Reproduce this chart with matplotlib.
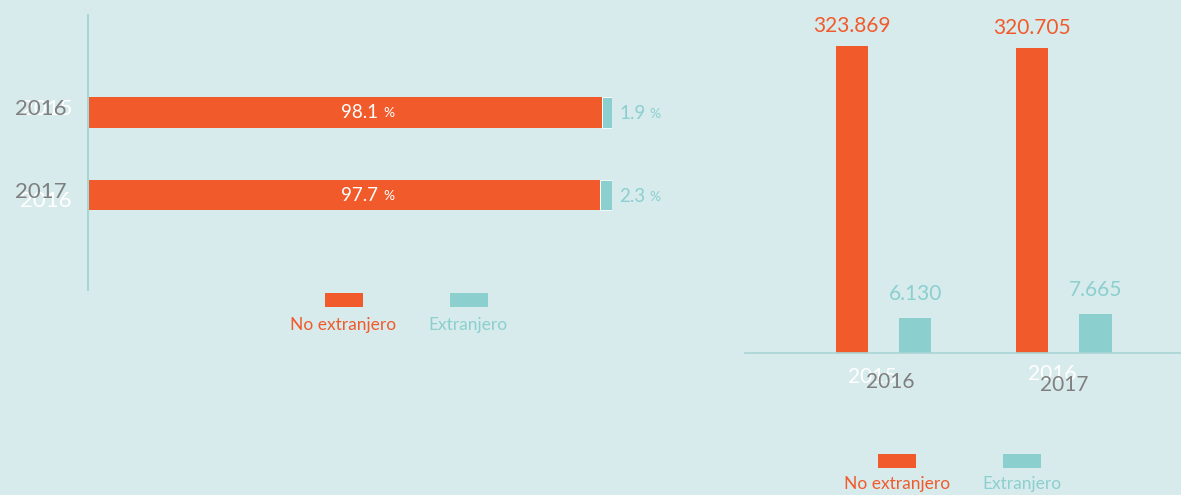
"""
Extranjero vs no extranjero, 2016-2017.
Vystup: out.png
"""

import numpy as np
import matplotlib
matplotlib.use('Agg')
import matplotlib.pyplot as plt
from matplotlib.patches import Rectangle

# --- data ---
years = ['2016', '2017']
pct_no_ext = [98.1, 97.7]
pct_ext = [1.9, 2.3]
cnt_no_ext = [323869, 320705]
cnt_ext = [6130, 7665]
pct_labels_no = ['98.1', '97.7']
pct_labels_ext = ['1.9', '2.3']
cnt_labels_no = ['323.869', '320.705']
cnt_labels_ext = ['6.130', '7.665']
legend_names = ['No extranjero', 'Extranjero']

# --- styl ---
BG = '#D8EBEC'
ORANGE = '#F15A2B'
TEAL = '#8BCFCF'
GRAY = '#7F7F7F'
LINE = '#A9D5D5'
W, H = 1181, 495

plt.rcParams['font.family'] = ['Lato', 'DejaVu Sans']


def fx(x):
    return x / W


def fy(y):
    return 1 - y / H


fig = plt.figure(figsize=(W / 100, H / 100), dpi=100, facecolor=BG)

# ============================================================
# Lavy graf: horizontalne percenta
# ============================================================
axl = fig.add_axes([fx(88), fy(290), fx(524), 275 / H])
axl.set_facecolor('none')
ypos = np.arange(len(years))
bar_h = 0.373
axl.barh(ypos, pct_no_ext, height=bar_h, color=ORANGE, lw=0, zorder=2)
axl.barh(ypos, pct_ext, left=pct_no_ext, height=bar_h, color=TEAL,
         edgecolor='white', linewidth=0.6, zorder=2)
axl.set_xlim(0, 100)
axl.set_ylim(2.145, -1.17)
for s in ['top', 'right', 'bottom']:
    axl.spines[s].set_visible(False)
axl.spines['left'].set_color(LINE)
axl.spines['left'].set_linewidth(1.5)
axl.spines['left'].set_zorder(3)
axl.set_xticks([])
axl.set_yticks([])

for i, y in enumerate(ypos):
    axl.text(55.3, y, pct_labels_no[i], color='white', fontsize=13.5,
             ha='right', va='center', zorder=4)
    axl.annotate('%', (55.3, y), xytext=(4, -1), textcoords='offset points',
                 color='white', fontsize=10, ha='left', va='center', zorder=4)
    end = pct_no_ext[i] + pct_ext[i]
    axl.annotate(pct_labels_ext[i], (end, y), xytext=(5, -1),
                 textcoords='offset points', color=TEAL, fontsize=13.5,
                 ha='left', va='center')
    axl.annotate('%', (end, y), xytext=(27, -1.5), textcoords='offset points',
                 color=TEAL, fontsize=10, ha='left', va='center')
    # popisky rokov (s bielym "duchom" ako v originali)
    ghost = ['2015', '2016'][i]
    gdy = [-3, 6][i]
    fig.text(fx(72), fy(112 + 83 * i + gdy), ghost, color='white', fontsize=16,
             ha='right', va='center')
    fig.text(fx(67), fy(109 + 83 * i), years[i], color=GRAY, fontsize=16,
             ha='right', va='center')

# legenda vlavo
for k, (name, col) in enumerate(zip(legend_names, [ORANGE, TEAL])):
    x0 = 325 + 125 * k
    fig.add_artist(Rectangle((fx(x0), fy(307)), fx(38), 14 / H,
                             transform=fig.transFigure, color=col, lw=0))
    fig.text(fx(x0 + 18), fy(325), name, color=col, fontsize=12.5,
             ha='center', va='center')

# ============================================================
# Pravy graf: absolutne pocty
# ============================================================
P = 0.55


def fwd(v):
    return np.sign(v) * np.abs(v) ** P


def inv(v):
    return np.sign(v) * np.abs(v) ** (1 / P)


axr = fig.add_axes([fx(745), fy(353), fx(W - 745), 333 / H])
axr.set_facecolor('none')
xpos = np.arange(len(years))
off = 0.176
bw = 0.178
axr.set_yscale('function', functions=(fwd, inv))
axr.bar(xpos - off, cnt_no_ext, width=bw, color=ORANGE, zorder=2)
axr.bar(xpos + off, cnt_ext, width=bw, color=TEAL, zorder=2)
axr.set_xlim(-0.771, 1.651)
axr.set_ylim(0, inv(fwd(max(cnt_no_ext)) * 333 / 307))
for s in ['top', 'right', 'left']:
    axr.spines[s].set_visible(False)
axr.spines['bottom'].set_color(LINE)
axr.spines['bottom'].set_linewidth(1.2)
axr.set_xticks([])
axr.set_yticks([])
axr.minorticks_off()

for i, x in enumerate(xpos):
    axr.annotate(cnt_labels_no[i], (x - off, cnt_no_ext[i]), xytext=(0, 7),
                 textcoords='offset points', color=ORANGE, fontsize=15,
                 ha='center', va='bottom')
    axr.annotate(cnt_labels_ext[i], (x + off, cnt_ext[i]), xytext=(0, 10),
                 textcoords='offset points', color=TEAL, fontsize=15,
                 ha='center', va='bottom')
    ghost = ['2015', '2016'][i]
    gx = [872, 1052][i]
    gy = [377, 374][i]
    fig.text(fx(gx), fy(gy), ghost, color='white', fontsize=15,
             ha='center', va='center')
    fig.text(fx([890, 1064][i]), fy([382, 385][i]), years[i], color=GRAY,
             fontsize=15, ha='center', va='center')

# legenda vpravo
for k, (name, col) in enumerate(zip(legend_names, [ORANGE, TEAL])):
    x0 = 878 + 125 * k
    fig.add_artist(Rectangle((fx(x0), fy(468)), fx(38), 14 / H,
                             transform=fig.transFigure, color=col, lw=0))
    fig.text(fx(x0 + 19), fy(484), name, color=col, fontsize=12.5,
             ha='center', va='center')

fig.savefig('out.png', dpi=100, facecolor=BG)
